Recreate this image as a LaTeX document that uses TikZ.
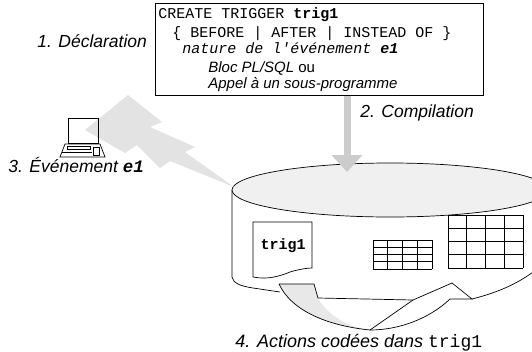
\documentclass[tikz,border=0pt]{standalone}
\usepackage{fontspec}
\setmainfont{Liberation Sans}
\setsansfont{Liberation Sans}
\setmonofont{Liberation Mono}
\usetikzlibrary{arrows.meta}

\begin{document}
\begin{tikzpicture}[x=1pt, y=-1pt, line width=0.7pt,
    lbl/.style={anchor=base west, inner sep=0pt, font=\fontsize{17.5}{20}\selectfont\itshape},
    code/.style={anchor=base west, inner sep=0pt, font=\fontsize{15}{18}\selectfont\ttfamily},
    txt/.style={anchor=base west, inner sep=0pt, font=\fontsize{15}{18}\selectfont\itshape}]
    \useasboundingbox (0,0) rectangle (532,351);

    \node[draw, anchor=north west, inner sep=0pt, minimum width=328pt, minimum height=92pt] (decl) at (155,3) {};
    \node[code] (line1) at (158,18) {CREATE TRIGGER \textbf{trig1}};
    \node[code] (line2) at (172,37) {\{ BEFORE | AFTER | INSTEAD OF \}};
    \node[code, font=\fontsize{15}{18}\selectfont\ttfamily\itshape] (line3) at (182,53) {nature de l'événement \textbf{e1}};
    \node[txt] (line4) at (208,72) {Bloc PL/SQL \textup{ou}};
    \node[txt] (line5) at (208,88) {Appel à un sous-programme};

    \node[lbl] (declare) at (37,47) {1. Déclaration};
    \node[lbl] (compile) at (360,117) {2. Compilation};
    \node[lbl] (event) at (8,172) {3. Événement \texttt{\bfseries e1}};
    \node[lbl, font=\fontsize{18}{20}\selectfont\itshape] (actions) at (235,347) {4. Actions codées dans \texttt{\upshape trig1}};

    \draw (232,190) -- (232,277) .. controls (233,283) and (240,286) .. (253,288) -- (280,292);
    \draw (472,299) .. controls (500,292) and (525,281) .. (545,262);
    \filldraw[fill=gray!12] (390,190) ellipse [x radius=158pt, y radius=27pt];

    \draw[fill=white] (312,222) -- (253,222) -- (253,277) .. controls (268,280) and (280,276) .. (290,272) .. controls (300,269) and (308,268) .. (312,268) -- cycle;
    \node[anchor=base, inner sep=0pt, font=\fontsize{15}{18}\selectfont\ttfamily\bfseries] (trigdoc) at (283,249) {trig1};

    \foreach \i in {0,...,4} {
        \draw (373+14.75*\i,240) -- (373+14.75*\i,269);
        \draw (373,240+7.25*\i) -- (432,240+7.25*\i);
        \draw (448+18.75*\i,215) -- (448+18.75*\i,268);
        \draw (448,215+13.25*\i) -- (523,215+13.25*\i);
    }

    \fill[white] (279,284) -- (314,284) -- (318,298) -- (413,300) -- (452,283) -- (472,299) -- (450,299) .. controls (430,318) and (400,330) .. (370,330) .. controls (330,326) and (292,312) .. (279,284);
    \fill[gray!18] (279,284) -- (314,284) -- (318,298) .. controls (328,316) and (348,327) .. (370,330) .. controls (330,326) and (292,312) .. cycle;
    \draw (279,284) -- (314,284) -- (318,298) -- (413,300) -- (452,283) -- (472,299) -- (450,299) .. controls (430,318) and (400,330) .. (370,330) .. controls (330,326) and (292,312) .. (279,284);
    \draw (413,300) -- (370,330);

    \coordinate (dbtop) at (347,172);
    \draw[gray!40, line width=7pt, -{Triangle[width=30pt,length=17pt]}] (decl.south -| dbtop) -- (dbtop);

    \fill[gray!22] (85,130) -- (128,95) -- (162,122) -- (150,127) -- (195,147) -- (185,152) -- (234,187) -- (170,161) -- (160,168) -- (137,145) -- (125,153) -- cycle;

    \draw (68,118) rectangle (98,143);
    \draw (65,144) -- (100,144) -- (105,157) -- (60,157) -- cycle;
    \draw (67,146) rectangle (90,149);
    \draw (62,152) -- (92,152);
    \draw (93,147) rectangle (99,155);
\end{tikzpicture}
\end{document}
